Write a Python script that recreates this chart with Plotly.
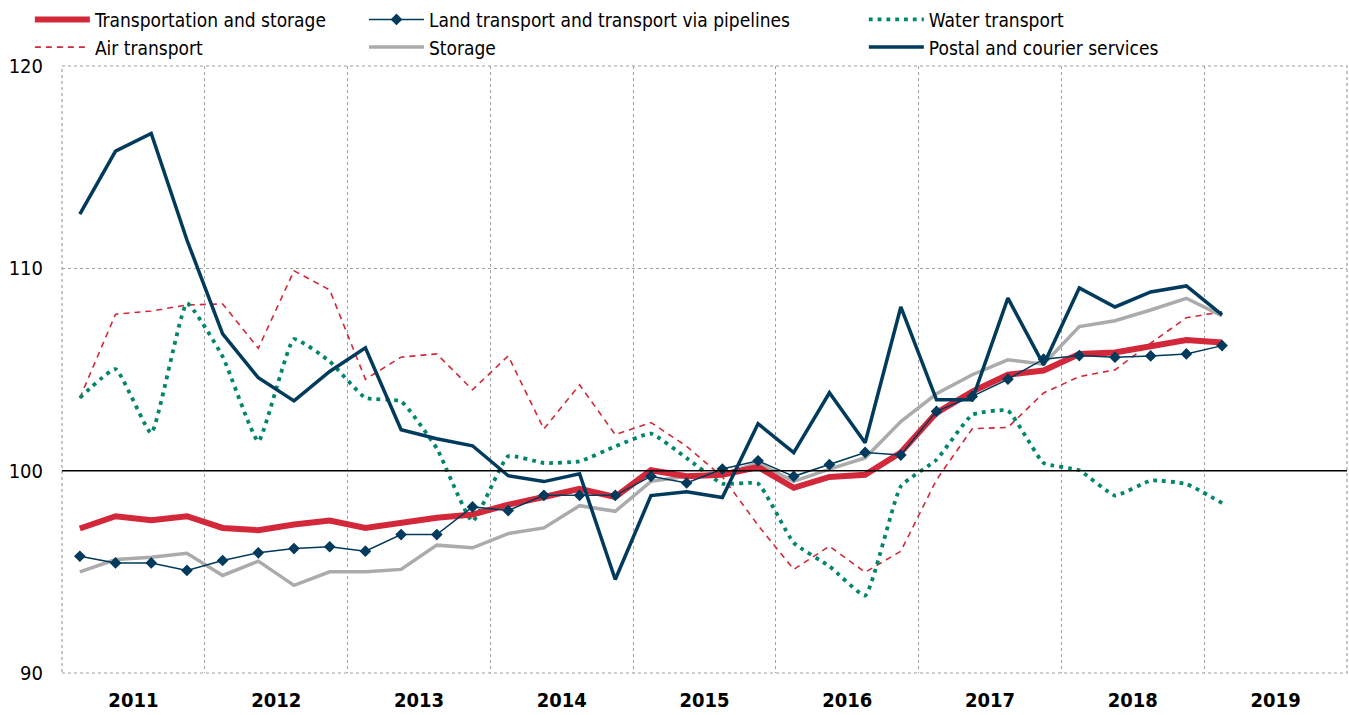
import plotly.graph_objects as go

years = [2011, 2012, 2013, 2014, 2015, 2016, 2017, 2018, 2019]
quarters_x = [2011 + 0.125 + 0.25 * i for i in range(33)]

transport_storage = [97.14, 97.75, 97.55, 97.75, 97.17, 97.06, 97.34, 97.53, 97.17, 97.45, 97.67, 97.83,
                     98.32, 98.70, 99.10, 98.70, 100.02, 99.72, 99.80, 100.18, 99.15, 99.69, 99.80, 100.90,
                     102.86, 103.91, 104.74, 104.95, 105.77, 105.84, 106.17, 106.46, 106.33]
land_transport = [95.77, 95.44, 95.44, 95.07, 95.56, 95.94, 96.15, 96.24, 96.02, 96.84, 96.84, 98.21,
                  98.03, 98.78, 98.78, 98.78, 99.72, 99.39, 100.08, 100.49, 99.72, 100.30, 100.90, 100.77,
                  102.93, 103.67, 104.52, 105.51, 105.69, 105.61, 105.67, 105.77, 106.18]
water_transport = [103.60, 105.02, 101.86, 108.27, 105.64, 101.45, 106.50, 105.40, 103.60, 103.42, 101.10, 97.50,
                   100.71, 100.38, 100.46, 101.20, 101.83, 100.62, 99.36, 99.36, 96.43, 95.28, 93.83, 99.23,
                   100.54, 102.76, 102.96, 100.38, 100.02, 98.77, 99.51, 99.34, 98.40]
air_transport = [103.59, 107.73, 107.89, 108.19, 108.24, 106.05, 109.88, 108.93, 104.52, 105.61, 105.77, 104.00,
                 105.67, 102.06, 104.24, 101.78, 102.38, 101.20, 99.70, 97.30, 95.12, 96.27, 94.98, 96.02,
                 99.55, 102.07, 102.14, 103.84, 104.65, 104.98, 106.30, 107.56, 107.85]
storage = [95.00, 95.61, 95.72, 95.92, 94.82, 95.53, 94.33, 95.00, 95.00, 95.12, 96.32, 96.19,
           96.89, 97.17, 98.27, 97.99, 99.47, 99.72, 99.80, 100.38, 99.47, 100.08, 100.63, 102.43,
           103.80, 104.74, 105.48, 105.26, 107.12, 107.41, 107.94, 108.52, 107.65]
postal = [112.68, 115.79, 116.67, 111.40, 106.76, 104.59, 103.45, 104.90, 106.07, 102.02, 101.58, 101.23,
          99.75, 99.46, 99.85, 94.62, 98.77, 98.96, 98.67, 102.32, 100.89, 103.85, 101.38, 108.09,
          103.50, 103.50, 108.53, 105.23, 109.03, 108.09, 108.83, 109.13, 107.70]

RED = "#D3283A"
NAVY = "#003A5C"
GREEN = "#00866A"
GREY = "#ABABAB"
FONT = "DejaVu Sans Condensed, Liberation Sans Narrow, Arial Narrow, sans-serif"

fig = go.Figure()

fig.add_trace(go.Scatter(x=quarters_x, y=storage, name="Storage", mode="lines",
                         line=dict(color=GREY, width=3.5), legend="legend2", legendrank=2))
fig.add_trace(go.Scatter(x=quarters_x, y=air_transport, name="Air transport", mode="lines",
                         line=dict(color=RED, width=1.6, dash="6px,5px"), legend="legend", legendrank=2))
fig.add_trace(go.Scatter(x=quarters_x, y=water_transport, name="Water transport", mode="lines",
                         line=dict(color=GREEN, width=3.8, dash="3.8px,5px", shape="spline", smoothing=0.4),
                         legend="legend3", legendrank=1))
fig.add_trace(go.Scatter(x=quarters_x, y=transport_storage, name="Transportation and storage", mode="lines",
                         line=dict(color=RED, width=6), legend="legend", legendrank=1))
fig.add_trace(go.Scatter(x=quarters_x, y=land_transport, name="Land transport and transport via pipelines",
                         mode="lines+markers", line=dict(color=NAVY, width=1.5),
                         marker=dict(symbol="diamond", size=9, color=NAVY),
                         legend="legend2", legendrank=1))
fig.add_trace(go.Scatter(x=quarters_x, y=postal, name="Postal and courier services", mode="lines",
                         line=dict(color=NAVY, width=3.5), legend="legend3", legendrank=2))

# 100 reference line
fig.add_shape(type="line", xref="paper", yref="y", x0=0, x1=1, y0=100, y1=100,
              line=dict(color="black", width=1.5), layer="above")
# plot frame
fig.add_shape(type="rect", xref="paper", yref="paper", x0=0, x1=1, y0=0, y1=1,
              line=dict(color="#A0A0A0", width=1.2, dash="dot"), layer="below")

legend_common = dict(orientation="v", xanchor="left", yanchor="top", bgcolor="rgba(0,0,0,0)",
                     font=dict(family=FONT, size=19, color="black"), itemwidth=55,
                     tracegroupgap=0, traceorder="normal", itemclick=False)

fig.update_layout(
    width=1349, height=715,
    margin=dict(l=62, r=2, t=65, b=42),
    paper_bgcolor="white", plot_bgcolor="white",
    font=dict(family=FONT, size=17, color="black"),
    showlegend=True,
    legend=dict(x=-0.025, y=1.106, **legend_common),
    legend2=dict(x=0.235, y=1.106, **legend_common),
    legend3=dict(x=0.624, y=1.106, **legend_common),
    xaxis=dict(range=[2011, 2020], tickmode="array",
               tickvals=[y + 0.5 for y in years], ticktext=[str(y) for y in years],
               tickfont=dict(family=FONT, size=20, color="black", weight="bold"),
               showgrid=False, zeroline=False, showline=False, ticks="", ticklabelstandoff=13,
               minor=dict(tickmode="array", tickvals=list(range(2011, 2021)), showgrid=True,
                          gridcolor="#A0A0A0", griddash="dot", gridwidth=1.2, ticks="")),
    yaxis=dict(range=[90, 120], tickmode="array", tickvals=[90, 100, 110, 120],
               tickfont=dict(family=FONT, size=20, color="black"),
               showgrid=True, gridcolor="#A0A0A0", griddash="dot", gridwidth=1.2,
               zeroline=False, showline=False, ticks="", ticklabelstandoff=18),
)

fig.write_html("out.html")
